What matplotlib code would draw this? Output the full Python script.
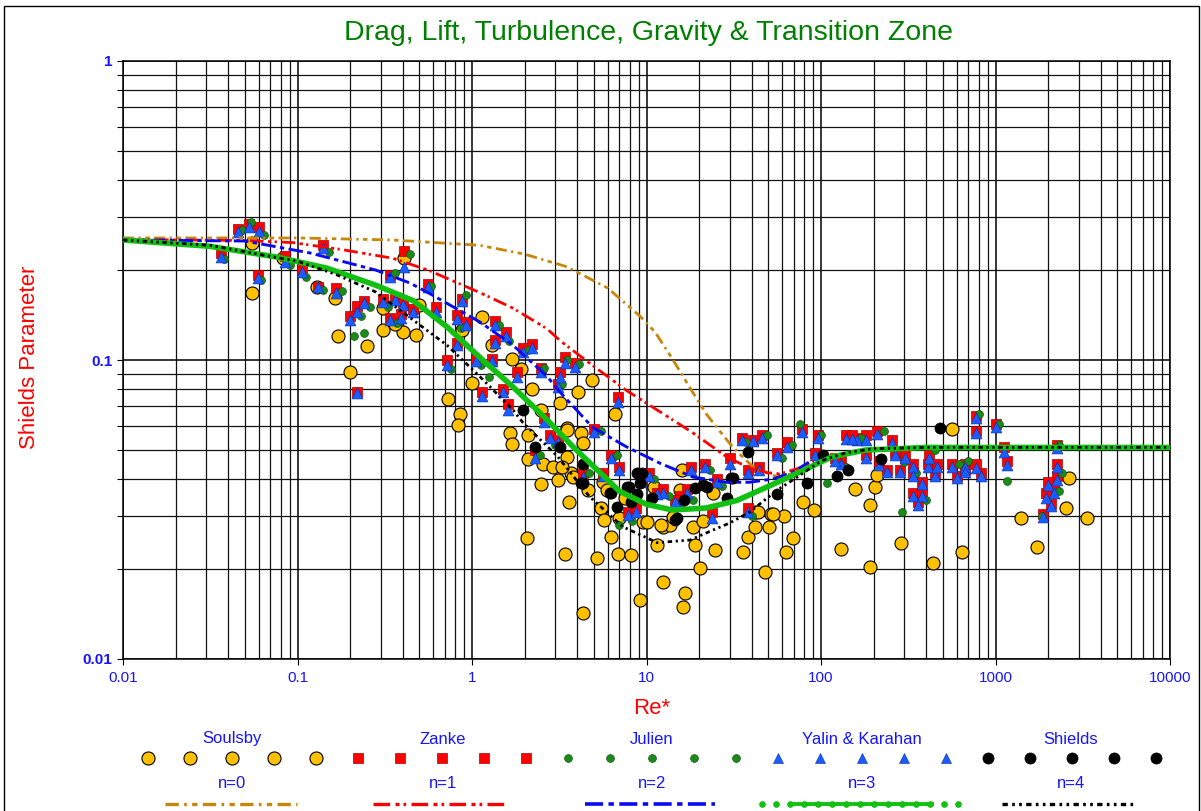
import matplotlib
matplotlib.use('Agg')
import matplotlib.pyplot as plt
from matplotlib.ticker import LogLocator, FixedLocator, FixedFormatter, NullFormatter
from matplotlib.patches import Rectangle

plt.rcParams['font.family'] = ['Liberation Sans', 'DejaVu Sans']

# ---------------- data ----------------
# Zanke (red squares) and Yalin & Karahan (blue triangles) share Re* values
re_zy = [0.0365, 0.0456, 0.0527, 0.060, 0.0594, 0.085, 0.106, 0.14, 0.131, 0.166,
         0.22, 0.20, 0.24, 0.22, 0.34, 0.31, 0.34, 0.39, 0.41, 0.36,
         0.40, 0.46, 0.56, 0.88, 0.82, 0.92, 1.35, 1.56, 1.35, 0.82,
         1.96, 2.2, 0.72, 1.05, 1.3, 2.5, 3.4, 3.2, 3.1, 1.5,
         1.14, 1.6, 3.9, 6.9, 5.0, 6.3, 2.3, 2.8, 3.1, 4.3,
         10.4, 9.3, 12.5, 17, 15.5, 18, 21.6, 25.5, 35.3, 41,
         46, 56, 64, 30, 38, 44, 78, 96, 92, 130,
         38, 23.7, 7.8, 8.7, 11.5, 14.5, 5.6, 7.0,
         161, 181, 209, 255, 181, 215, 239, 266, 284, 303,
         336, 336, 380, 336, 380, 360, 410, 415, 450, 462,
         563, 602, 669, 669, 773, 826, 773, 773, 1010, 1119,
         1164, 2250, 2250, 2250, 2000, 2170, 1960, 2090, 1870,
         140, 150, 120, 0.62, 1.8, 2.6]
theta_yalin = [0.221, 0.268, 0.279, 0.270, 0.188, 0.213, 0.197, 0.236, 0.175, 0.168,
               0.145, 0.136, 0.155, 0.0775, 0.19, 0.156, 0.136, 0.138, 0.205, 0.159,
               0.153, 0.145, 0.175, 0.157, 0.137, 0.131, 0.131, 0.12, 0.114, 0.112,
               0.106, 0.11, 0.096, 0.099, 0.099, 0.091, 0.098, 0.088, 0.081, 0.078,
               0.0755, 0.0683, 0.095, 0.0725, 0.0575, 0.047, 0.047, 0.055, 0.053, 0.0405,
               0.041, 0.039, 0.0358, 0.036, 0.0336, 0.043, 0.044, 0.039, 0.054, 0.0535,
               0.055, 0.048, 0.051, 0.045, 0.042, 0.043, 0.0575, 0.055, 0.048, 0.045,
               0.031, 0.0296, 0.0304, 0.031, 0.0355, 0.0335, 0.041, 0.043,
               0.054, 0.054, 0.0565, 0.0527, 0.047, 0.0447, 0.0422, 0.0481, 0.0422, 0.047,
               0.044, 0.0409, 0.0384, 0.0351, 0.0351, 0.0327, 0.044, 0.047, 0.0409, 0.044,
               0.044, 0.0403, 0.044, 0.0422, 0.0436, 0.0409, 0.064, 0.057, 0.0597, 0.0492,
               0.0447, 0.0508, 0.044, 0.0397, 0.0381, 0.0359, 0.0345, 0.0325, 0.0299,
               0.0545, 0.0545, 0.046, 0.145, 0.088, 0.062]
theta_zanke = [0.228, 0.275, 0.285, 0.278, 0.193, 0.222, 0.203, 0.243, 0.176, 0.174,
               0.152, 0.14, 0.158, 0.078, 0.192, 0.16, 0.138, 0.142, 0.232, 0.163,
               0.155, 0.148, 0.18, 0.16, 0.141, 0.134, 0.135, 0.124, 0.117, 0.114,
               0.11, 0.113, 0.1, 0.1, 0.101, 0.094, 0.102, 0.091, 0.083, 0.08,
               0.078, 0.071, 0.098, 0.075, 0.059, 0.048, 0.05, 0.056, 0.054, 0.042,
               0.042, 0.04, 0.037, 0.037, 0.035, 0.044, 0.045, 0.04, 0.055, 0.054,
               0.056, 0.049, 0.053, 0.047, 0.043, 0.044, 0.059, 0.056, 0.049, 0.046,
               0.032, 0.031, 0.031, 0.032, 0.036, 0.034, 0.042, 0.044,
               0.055, 0.056, 0.058, 0.054, 0.048, 0.046, 0.043, 0.049, 0.043, 0.048,
               0.045, 0.042, 0.039, 0.036, 0.036, 0.0335, 0.045, 0.048, 0.042, 0.045,
               0.045, 0.041, 0.045, 0.043, 0.045, 0.042, 0.065, 0.058, 0.061, 0.051,
               0.046, 0.052, 0.045, 0.041, 0.039, 0.037, 0.036, 0.033, 0.0305,
               0.056, 0.056, 0.047, 0.15, 0.091, 0.064]

# Julien (green circles)
re_julien = [0.038, 0.048, 0.054, 0.064, 0.062, 0.09, 0.112, 0.152, 0.14, 0.18,
             0.23, 0.21, 0.26, 0.36, 0.33, 0.37, 0.58, 0.92, 0.86, 1.42,
             1.62, 0.76, 1.12, 2.1, 2.6, 3.5, 3.3, 4.1, 5.5, 6.8,
             2.45, 3.0, 4.7, 11, 13.5, 18.5, 23, 27, 37, 49,
             60, 68, 76, 100, 108, 140, 170, 230, 290, 300,
             350, 400, 450, 620, 700, 800, 1050, 1170, 2300, 2300,
             2400, 1850, 8.3, 7.0, 40, 0.44, 1.25, 0.24]
theta_julien = [0.217, 0.272, 0.289, 0.262, 0.185, 0.208, 0.19, 0.23, 0.172, 0.17,
                0.14, 0.12, 0.15, 0.195, 0.15, 0.133, 0.177, 0.165, 0.128, 0.131,
                0.116, 0.093, 0.096, 0.108, 0.094, 0.10, 0.083, 0.097, 0.058, 0.048,
                0.048, 0.052, 0.042, 0.04, 0.035, 0.034, 0.043, 0.038, 0.053, 0.056,
                0.047, 0.052, 0.061, 0.056, 0.0387, 0.044, 0.055, 0.058, 0.031, 0.0455,
                0.042, 0.034, 0.05, 0.045, 0.046, 0.066, 0.061, 0.0393, 0.052, 0.0365,
                0.042, 0.030, 0.029, 0.028, 0.030, 0.227, 0.088, 0.123]

# Soulsby (orange circles)
re_soulsby = [0.055, 0.055, 0.083, 0.13, 0.165, 0.17, 0.25, 0.20, 0.31, 0.31,
              0.40, 0.41, 0.48, 0.50, 1.14, 0.88, 1.69, 2.2, 4.9, 4.05,
              3.19, 0.73, 0.85, 0.83, 6.6, 2.5, 1.66, 1.7, 2.1, 3.5,
              4.2, 4.3, 3.5, 2.1, 2.55, 2.9, 3.1, 2.5, 3.7, 4.6,
              3.6, 5.6, 5.5, 5.7, 7.0, 9.5, 6.3, 2.07, 3.4, 5.2,
              6.9, 8.2, 9.2, 4.3, 11.5, 12.4, 13.6, 12.4, 16.6, 16.2,
              20.3, 19.0, 24.7, 18.5, 14.2, 24.1, 15.6, 3.5, 3.3, 3.8,
              15.9, 10.0, 12.1, 21, 41.7, 52, 61, 79, 91, 157,
              35.6, 48, 38, 41.7, 50.6, 43.6, 53, 63, 69, 130,
              192, 192, 203, 209, 289, 437, 640, 563, 1400, 1730,
              2640, 2540, 3340, 5.9, 11, 7.5, 0.36, 1.0, 1.3, 1.9]
theta_soulsby = [0.168, 0.246, 0.219, 0.175, 0.161, 0.12, 0.111, 0.091, 0.149, 0.126,
                 0.124, 0.22, 0.121, 0.153, 0.139, 0.126, 0.101, 0.080, 0.086, 0.078,
                 0.072, 0.074, 0.066, 0.0605, 0.066, 0.068, 0.057, 0.0525, 0.056, 0.0594,
                 0.057, 0.0527, 0.0475, 0.0465, 0.045, 0.0437, 0.0398, 0.0385, 0.042, 0.0367,
                 0.0336, 0.039, 0.032, 0.0292, 0.0296, 0.0288, 0.0256, 0.0254, 0.0225, 0.0218,
                 0.0225, 0.0222, 0.0157, 0.0143, 0.0240, 0.0276, 0.028, 0.0181, 0.0166, 0.0149,
                 0.0202, 0.024, 0.0231, 0.0276, 0.0298, 0.0358, 0.0367, 0.0585, 0.044, 0.0405,
                 0.043, 0.0288, 0.028, 0.029, 0.031, 0.0305, 0.030, 0.0336, 0.0315, 0.037,
                 0.0228, 0.0196, 0.0256, 0.0276, 0.0276, 0.0311, 0.0306, 0.0228, 0.0254, 0.0234,
                 0.0203, 0.0327, 0.0376, 0.0411, 0.0245, 0.021, 0.0228, 0.059, 0.0297, 0.0237,
                 0.0404, 0.0319, 0.0297, 0.0368, 0.0375, 0.0345, 0.132, 0.084, 0.112, 0.093]

# Shields (black circles)
re_shields = [1.95, 2.3, 3.2, 4.3, 4.2, 4.3, 6.3, 7.7, 8.8, 9.2,
              7.9, 8.2, 6.2, 6.8, 10.7, 14.5, 16.3, 19.0, 22.1, 31.2,
              38.0, 30.5, 21, 29, 56, 83, 103, 124, 142, 222,
              480, 9.4, 8.8, 15.0]
theta_shields = [0.068, 0.0512, 0.0512, 0.045, 0.0387, 0.0387, 0.036, 0.0375, 0.042, 0.0389,
                 0.0375, 0.0336, 0.0358, 0.0322, 0.0345, 0.0292, 0.0340, 0.0373, 0.0375, 0.0403,
                 0.0494, 0.0403, 0.0381, 0.0345, 0.0355, 0.0387, 0.0481, 0.041, 0.0430, 0.0465,
                 0.0593, 0.042, 0.0355, 0.0296]

# Curves
re_c0 = [0.01, 0.1, 0.35, 1.1, 2.0, 3.5, 6.0, 9.2, 11.2, 14.2, 18.4, 22, 26.5, 31.3,
         37.5, 42.5, 49, 56, 70, 85]
theta_c0 = [0.256, 0.256, 0.252, 0.242, 0.226, 0.205, 0.174, 0.14, 0.124, 0.100, 0.078,
            0.066, 0.0575, 0.051, 0.046, 0.043, 0.042, 0.0407, 0.0418, 0.045]
re_c1 = [0.01, 0.05, 0.094, 0.18, 0.35, 0.57, 1.11, 1.72, 2.7, 3.2, 4.9, 7.7, 12, 18.5,
         28.8, 37.5, 49, 58, 75, 90]
theta_c1 = [0.253, 0.251, 0.247, 0.234, 0.219, 0.199, 0.168, 0.149, 0.127, 0.116, 0.096,
            0.079, 0.067, 0.057, 0.0474, 0.044, 0.042, 0.0416, 0.0435, 0.046]
re_c2 = [0.01, 0.05, 0.118, 0.28, 0.44, 0.57, 1.11, 1.72, 2.7, 3.2, 4.9, 7.7, 12, 18.5,
         28.8, 39, 53, 69, 85]
theta_c2 = [0.252, 0.25, 0.228, 0.20, 0.181, 0.167, 0.134, 0.112, 0.088, 0.078, 0.0596,
            0.0512, 0.0451, 0.0406, 0.039, 0.039, 0.040, 0.0421, 0.0455]
re_c3 = [0.01, 0.0315, 0.076, 0.147, 0.28, 0.46, 0.72, 1.11, 1.72, 2.7, 3.8, 5.2, 7.0,
         10, 14.1, 22, 33, 49, 75, 115, 180, 400, 1000, 10000]
theta_c3 = [0.252, 0.24, 0.221, 0.203, 0.178, 0.158, 0.129, 0.102, 0.0812, 0.063, 0.0512,
            0.043, 0.0364, 0.0329, 0.0315, 0.032, 0.0339, 0.0376, 0.0421, 0.0474, 0.050,
            0.051, 0.051, 0.051]
re_c4 = [0.01, 0.0315, 0.076, 0.1, 0.167, 0.28, 0.46, 0.72, 1.11, 1.72, 1.96, 3.1, 4.7,
         7.3, 11.5, 17.8, 23, 30, 39, 56, 75, 100, 140, 200, 400, 1000, 10000]
theta_c4 = [0.252, 0.242, 0.22, 0.214, 0.193, 0.169, 0.136, 0.112, 0.088, 0.068, 0.0617,
            0.0475, 0.035, 0.0277, 0.0245, 0.025, 0.0267, 0.0285, 0.031, 0.0367, 0.041,
            0.046, 0.049, 0.0505, 0.051, 0.051, 0.051]

x_ticks = [0.01, 0.1, 1, 10, 100, 1000, 10000]
x_tick_labels = ['0.01', '0.1', '1', '10', '100', '1000', '10000']
y_ticks = [0.01, 0.1, 1]
y_tick_labels = ['0.01', '0.1', '1']

series_names = ['Soulsby', 'Zanke', 'Julien', 'Yalin & Karahan', 'Shields']
curve_names = ['n=0', 'n=1', 'n=2', 'n=3', 'n=4']

# ---------------- styles ----------------
C_OR = '#FFC000'
C_RED = '#FF0000'
C_GRN = '#1B8A1B'
C_BLU = '#1A5CFF'
C_BLK = '#000000'
C_GOLD = '#C8870B'
C_LGRN = '#12C012'
TXT_BLUE = '#1515FF'

ls0 = (0, (4, 1.6, 0.8, 1.6, 1.6, 1.6))
ls1 = (0, (5, 1.6, 1.2, 1.2, 0.8, 1.6))
ls2 = (0, (5, 1.5, 1.5, 1.5))
ls4 = (0, (1.6, 1.3, 0.8, 1.3, 0.8, 1.3))

fig = plt.figure(figsize=(12.01, 8.11), dpi=100)
W, H = 1201.0, 811.0
ax = fig.add_axes([123 / W, 1 - 659 / H, 1047 / W, 598 / H])
ax.set_xscale('log')
ax.set_yscale('log')
ax.set_xlim(0.01, 10000)
ax.set_ylim(0.01, 1)

ax.xaxis.set_major_locator(FixedLocator(x_ticks))
ax.xaxis.set_major_formatter(FixedFormatter(x_tick_labels))
ax.yaxis.set_major_locator(FixedLocator(y_ticks))
ax.yaxis.set_major_formatter(FixedFormatter(y_tick_labels))
ax.xaxis.set_minor_locator(LogLocator(base=10, subs=range(2, 10), numticks=50))
ax.yaxis.set_minor_locator(LogLocator(base=10, subs=range(2, 10), numticks=50))
ax.xaxis.set_minor_formatter(NullFormatter())
ax.yaxis.set_minor_formatter(NullFormatter())
ax.grid(which='major', color='#000000', lw=1.1, zorder=0)
ax.grid(which='minor', color='#111111', lw=0.9, zorder=0)
ax.set_axisbelow(True)
ax.tick_params(axis='x', which='major', length=4, width=0.8, pad=5, labelsize=11,
               labelcolor=TXT_BLUE, direction='out')
ax.tick_params(axis='x', which='minor', length=0)
ax.tick_params(axis='y', which='both', length=4.5, width=0.8, pad=3, labelsize=11,
               labelcolor=TXT_BLUE, direction='out')
for lab in ax.get_yticklabels():
    lab.set_fontweight('bold')
for sp in ax.spines.values():
    sp.set_color('black')
    sp.set_linewidth(1.1)

# points
ax.scatter(re_soulsby, theta_soulsby, s=88, c=C_OR, edgecolors='black', linewidths=0.8, zorder=3)
ax.scatter(re_zy, theta_zanke, s=52, marker='s', c=C_RED, edgecolors='#B00000', linewidths=0.5, zorder=4)
ax.scatter(re_julien, theta_julien, s=32, c=C_GRN, edgecolors='#0B5A0B', linewidths=0.5, zorder=5)
ax.scatter(re_zy, theta_yalin, s=62, marker='^', c=C_BLU, edgecolors='#0A2F9A', linewidths=0.4, zorder=6)
ax.scatter(re_shields, theta_shields, s=64, c=C_BLK, edgecolors='black', linewidths=0.5, zorder=7)

# curves
ax.plot(re_c0, theta_c0, color=C_GOLD, lw=2.0, ls=ls0, zorder=8)
ax.plot(re_c1, theta_c1, color=C_RED, lw=2.0, ls=ls1, zorder=8)
ax.plot(re_c2, theta_c2, color='#0A0AF0', lw=2.1, ls=ls2, zorder=8)
ax.plot(re_c3, theta_c3, color=C_LGRN, lw=4.0, ls='-', zorder=9, solid_capstyle='round')
ax.plot(re_c4, theta_c4, color='black', lw=2.0, ls=ls4, zorder=10)

# titles and axis labels
fig.text(649 / W, 1 - 33 / H, 'Drag, Lift, Turbulence, Gravity & Transition Zone',
         ha='center', va='center', color='#008000', fontsize=20.5)
fig.text(652 / W, 1 - 708 / H, 'Re*', ha='center', va='center', color=C_RED, fontsize=16)
fig.text(30 / W, 1 - 357 / H, 'Shields Parameter', ha='center', va='center',
         color=C_RED, fontsize=16, rotation=90)

# legend drawn in a pixel-coordinate overlay
lg = fig.add_axes([0, 0, 1, 1], facecolor='none')
lg.set_xlim(0, W)
lg.set_ylim(H, 0)
lg.axis('off')

group_cx = [232, 443, 652, 862, 1071]
for name, cx in zip(series_names, group_cx):
    lg.text(cx, 739, name, ha='center', va='center', color=TXT_BLUE, fontsize=12)
for name, cx in zip(curve_names, group_cx):
    lg.text(cx, 783, name, ha='center', va='center', color=TXT_BLUE, fontsize=12)

mk_styles = [dict(marker='o', ms=9.4, mfc=C_OR, mec='black', mew=0.8),
             dict(marker='s', ms=7.0, mfc=C_RED, mec='#B00000', mew=0.5),
             dict(marker='o', ms=5.6, mfc=C_GRN, mec='#0B5A0B', mew=0.5),
             dict(marker='^', ms=7.6, mfc=C_BLU, mec='#0A2F9A', mew=0.4),
             dict(marker='o', ms=8.0, mfc='black', mec='black', mew=0.5)]
x0, dx = 148.0, 42.0
for g, st in enumerate(mk_styles):
    xs = [x0 + dx * (5 * g + k) for k in range(5)]
    lg.plot(xs, [758] * 5, ls='none', **st)

seg = [(165, 297), (373, 505), (585, 715), (762, 958), (1002, 1133)]
lg.plot(seg[0], [804, 804], color=C_GOLD, lw=2.4, ls=ls0)
lg.plot(seg[1], [804, 804], color=C_RED, lw=2.4, ls=ls1)
lg.plot(seg[2], [804, 804], color='#0A0AF0', lw=2.6, ls=ls2)
lg.plot([790, 932], [804, 804], color=C_LGRN, lw=2.8)
lg.plot([762 + 14 * k for k in range(15)], [804] * 15, ls='none', marker='o', ms=3.8,
        color=C_LGRN)
lg.plot(seg[4], [804, 804], color='black', lw=2.4, ls=ls4)

# outer frame
fig.add_artist(Rectangle((4 / W, -0.01), 1195 / W, 1.01 - 6 / H, transform=fig.transFigure,
                         fill=False, edgecolor='black', lw=1.0))

fig.savefig('out.png', dpi=100)
